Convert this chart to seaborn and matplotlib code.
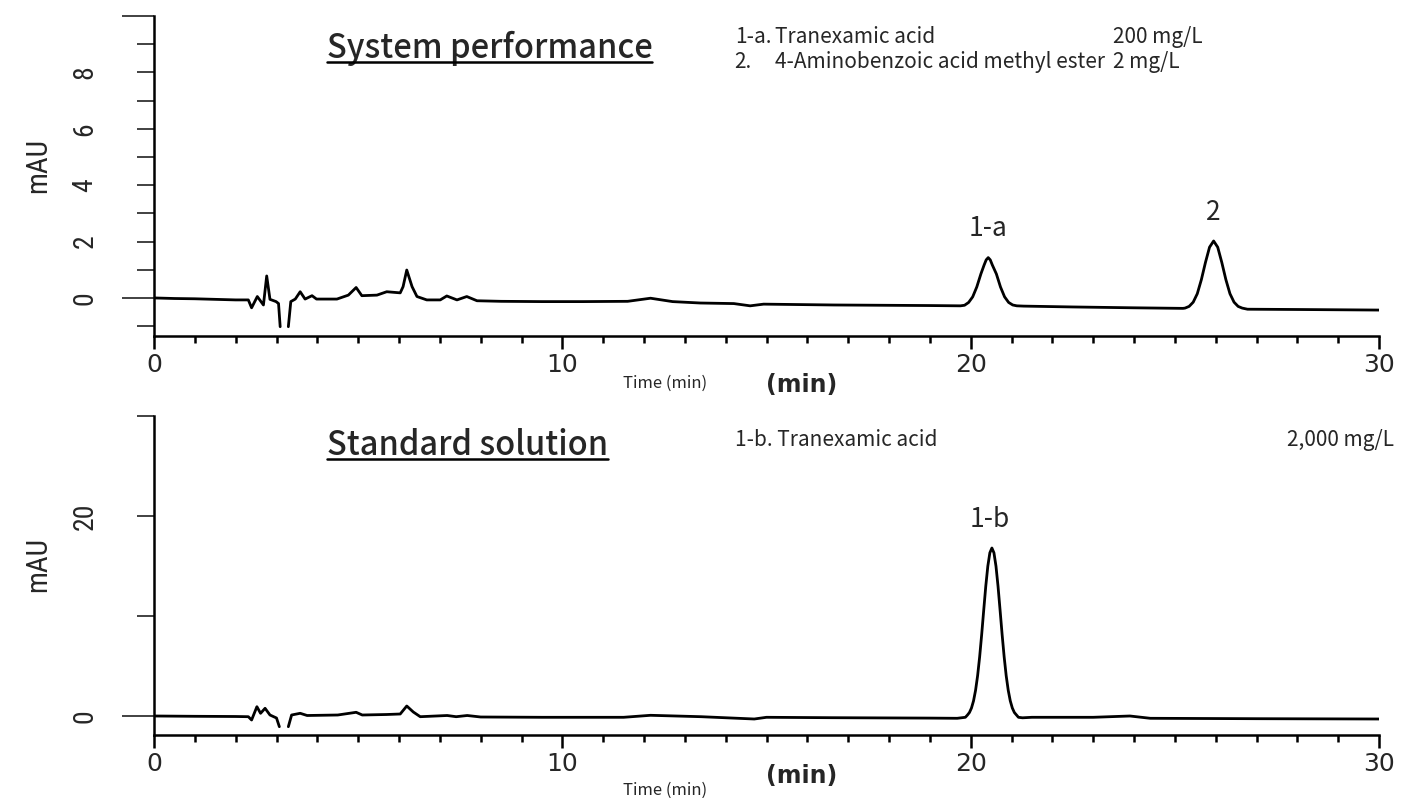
import matplotlib
matplotlib.use("Agg")
import matplotlib.pyplot as plt
import seaborn as sns
from matplotlib import font_manager as fm
from matplotlib.lines import Line2D

# ---------------- data ----------------
# System performance chromatogram, before and after the off-scale gap near 3.1-3.3 min
sys_t_a = [0.0, 0.5, 1.0, 1.5, 2.0, 2.31, 2.39, 2.53, 2.68, 2.76, 2.84, 2.99, 3.05, 3.09]
sys_v_a = [0.0, -0.02, -0.03, -0.05, -0.07, -0.07, -0.35, 0.05, -0.25, 0.78, -0.05, -0.13, -0.2, -1.02]
sys_t_b = [3.29, 3.35, 3.46, 3.58, 3.70, 3.87, 3.98, 4.48, 4.76, 4.95, 5.09, 5.46, 5.70, 6.03,
           6.10, 6.19, 6.32, 6.44, 6.68, 7.01, 7.17, 7.42, 7.66, 7.91, 8.5, 9.5, 10.5, 11.6,
           12.16, 12.7, 13.38, 14.2, 14.6, 14.93, 16.65, 19.0, 19.75,
           19.85, 19.95, 20.05, 20.15, 20.25, 20.33, 20.38, 20.43, 20.48, 20.53, 20.63,
           20.73, 20.83, 20.93, 21.03, 21.13, 21.3, 22.5, 24.0, 25.2,
           25.25, 25.35, 25.45, 25.55, 25.65, 25.75, 25.85, 25.95, 26.05, 26.15, 26.25,
           26.35, 26.45, 26.55, 26.65, 26.78, 28.0, 30.0]
sys_v_b = [-1.02, -0.13, -0.04, 0.22, -0.04, 0.08, -0.04, -0.04, 0.10, 0.37, 0.08, 0.10, 0.22, 0.18,
           0.40, 0.99, 0.40, 0.05, -0.07, -0.07, 0.07, -0.07, 0.05, -0.10, -0.12, -0.13, -0.13, -0.12,
           -0.01, -0.13, -0.18, -0.20, -0.28, -0.22, -0.25, -0.27, -0.28,
           -0.26, -0.16, 0.04, 0.39, 0.85, 1.17, 1.35, 1.43, 1.35, 1.17, 0.85,
           0.39, 0.04, -0.16, -0.25, -0.28, -0.29, -0.32, -0.35, -0.37,
           -0.36, -0.30, -0.15, 0.15, 0.65, 1.26, 1.80, 2.02, 1.80, 1.26, 0.65,
           0.15, -0.15, -0.30, -0.36, -0.40, -0.41, -0.43]

# Standard solution chromatogram
std_t_a = [0.0, 1.0, 2.0, 2.31, 2.39, 2.52, 2.61, 2.72, 2.84, 3.0, 3.07]
std_v_a = [0.0, -0.03, -0.05, -0.07, -0.40, 0.93, 0.27, 0.77, 0.10, -0.20, -1.07]
std_t_b = [3.29, 3.37, 3.58, 3.75, 4.5, 4.95, 5.1, 5.7, 6.03, 6.19, 6.35, 6.52, 7.18, 7.4, 7.67,
           8.0, 9.5, 11.5, 12.16, 13.4, 14.7, 15.0, 16.6, 19.0, 19.67,
           19.77, 19.87, 19.92, 19.97, 20.02, 20.07, 20.12, 20.17, 20.22, 20.27, 20.32, 20.37, 20.42,
           20.47, 20.52, 20.57, 20.62, 20.67, 20.72, 20.77, 20.82, 20.87, 20.92, 20.97, 21.02,
           21.07, 21.17, 21.27, 21.5, 23.0, 23.9, 24.4, 27.0, 30.0]
std_v_b = [-1.07, 0.10, 0.27, 0.05, 0.10, 0.37, 0.10, 0.15, 0.20, 1.00, 0.40, -0.07, 0.05, -0.07, 0.05,
           -0.10, -0.13, -0.13, 0.07, -0.07, -0.30, -0.13, -0.17, -0.21, -0.23,
           -0.18, -0.13, 0.09, 0.35, 0.80, 1.51, 2.57, 4.03, 5.92, 8.16, 10.6, 12.98, 14.98,
           16.32, 16.80, 16.32, 14.98, 12.98, 10.6, 8.16, 5.92, 4.03, 2.57, 1.51, 0.80,
           0.35, -0.13, -0.18, -0.13, -0.13, 0.0, -0.23, -0.27, -0.30]

x_major = [0, 10, 20, 30]
x_major_labels = ["0", "10", "20", "30"]
x_minor = [m for m in range(0, 31) if m not in x_major]

sys_y_major = [0, 10]
sys_y_major_labels = ["0", ""]
sys_y_minor = [-1, 1, 2, 3, 4, 5, 6, 7, 8, 9]
sys_y_minor_labels = ["", "", "2", "", "4", "", "6", "", "8", ""]

std_y_major = [0]
std_y_major_labels = ["0"]
std_y_minor = [10, 20, 30]
std_y_minor_labels = ["", "20", ""]

sys_title = "System performance"
std_title = "Standard solution"
sys_legend = [("1-a.", "Tranexamic acid", "200 mg/L"),
              ("2.", "4-Aminobenzoic acid methyl ester", "2 mg/L")]
std_legend = [("1-b. Tranexamic acid", "2,000 mg/L")]
sys_peaks = [("1-a", 20.43, 1.43), ("2", 25.95, 2.02)]
std_peaks = [("1-b", 20.47, 16.80)]


def pick(cands):
    for c in cands:
        try:
            fm.findfont(fm.FontProperties(family=c), fallback_to_default=False)
            return c
        except Exception:
            pass
    return "DejaVu Sans"


sns.set_style("ticks")
JP = pick(["Noto Sans CJK JP", "Noto Sans"])
NARROW = pick(["Liberation Sans Narrow", "DejaVu Sans Condensed", "Roboto Condensed", "Liberation Sans"])
plt.rcParams["font.family"] = [JP, "DejaVu Sans"]

fig = plt.figure(figsize=(14.03, 7.98), dpi=100)
ax1 = fig.add_axes([154 / 1403, 1 - 336 / 798, 1225 / 1403, 320 / 798])
ax2 = fig.add_axes([154 / 1403, 1 - 735 / 798, 1225 / 1403, 319 / 798])

LW = 2.0
for t, v in [(sys_t_a, sys_v_a), (sys_t_b, sys_v_b)]:
    sns.lineplot(x=t, y=v, ax=ax1, color="black", lw=LW, estimator=None, sort=False)
for t, v in [(std_t_a, std_v_a), (std_t_b, std_v_b)]:
    sns.lineplot(x=t, y=v, ax=ax2, color="black", lw=LW, estimator=None, sort=False)

ax1.set_ylim(-1.35, 10)
ax2.set_ylim(-1.9, 30)

for ax, ymaj, ymajl, ymin, yminl in [
        (ax1, sys_y_major, sys_y_major_labels, sys_y_minor, sys_y_minor_labels),
        (ax2, std_y_major, std_y_major_labels, std_y_minor, std_y_minor_labels)]:
    ax.set_xlim(0, 30)
    ax.set_xticks(x_major, labels=x_major_labels)
    ax.set_xticks(x_minor, minor=True)
    ax.set_yticks(ymaj, labels=ymajl)
    ax.set_yticks(ymin, labels=yminl, minor=True)
    for s in ["top", "right"]:
        ax.spines[s].set_visible(False)
    for s in ["left", "bottom"]:
        ax.spines[s].set_linewidth(1.8)
        ax.spines[s].set_color("black")
    ax.tick_params(axis="x", which="major", length=9, width=1.8, color="black",
                   direction="out", pad=3, labelsize=18)
    ax.tick_params(axis="x", which="minor", length=5, width=1.8, color="black", direction="out")
    ax.tick_params(axis="y", which="major", length=23, width=1.3, color="#333333",
                   direction="out", pad=17, labelsize=20, labelrotation=90)
    ax.tick_params(axis="y", which="minor", length=12, width=1.3, color="#333333",
                   direction="out", pad=28, labelsize=20, labelrotation=90)
    for lab in ax.get_xticklabels():
        lab.set_fontfamily("DejaVu Sans")
    for lab in ax.get_yticklabels(which="both"):
        lab.set_fontfamily(NARROW)
        lab.set_va("center")
    ax.set_xlabel("")
    ax.set_ylabel("")
    ax.text(-0.0947, 0.533, "mAU", transform=ax.transAxes, rotation=90, ha="center", va="center",
            fontsize=21, family=NARROW)

# x-axis captions
ax1.text(0.417, -0.147, "Time (min)", transform=ax1.transAxes, ha="center", va="center", fontsize=12)
ax1.text(0.529, -0.153, "(min)", transform=ax1.transAxes, ha="center", va="center",
         fontsize=17, family="DejaVu Sans", weight="bold")
ax2.text(0.417, -0.172, "Time (min)", transform=ax2.transAxes, ha="center", va="center", fontsize=12)
ax2.text(0.529, -0.129, "(min)", transform=ax2.transAxes, ha="center", va="center",
         fontsize=17, family="DejaVu Sans", weight="bold")

# titles
t1 = ax1.text(0.141, 0.90, sys_title, transform=ax1.transAxes, ha="left", va="center",
              fontsize=23.5, weight="medium")
t2 = ax2.text(0.141, 0.909, std_title, transform=ax2.transAxes, ha="left", va="center",
              fontsize=23.5, weight="medium")

# compound legends
ys = [0.934, 0.856]
for (num, name, conc), yy in zip(sys_legend, ys):
    ax1.text(0.474, yy, num, transform=ax1.transAxes, ha="left", va="center", fontsize=15)
    ax1.text(0.507, yy, name, transform=ax1.transAxes, ha="left", va="center", fontsize=15)
    ax1.text(0.783, yy, conc, transform=ax1.transAxes, ha="left", va="center", fontsize=15)
for name, conc in std_legend:
    ax2.text(0.474, 0.925, name, transform=ax2.transAxes, ha="left", va="center", fontsize=15)
    ax2.text(0.925, 0.925, conc, transform=ax2.transAxes, ha="left", va="center", fontsize=15)

# peak labels
for ax, peaks in [(ax1, sys_peaks), (ax2, std_peaks)]:
    for lab, t, v in peaks:
        ax.annotate(lab, xy=(t, v), xytext=(0, 11), textcoords="offset points",
                    ha="center", va="bottom", fontsize=19)

# underline titles
fig.canvas.draw()
r = fig.canvas.get_renderer()
for t in [t1, t2]:
    bb = t.get_window_extent(r).transformed(fig.transFigure.inverted())
    yline = bb.y0 + 0.004
    fig.add_artist(Line2D([bb.x0, bb.x1], [yline, yline], transform=fig.transFigure,
                          color="black", lw=1.8))

fig.savefig("out.png", dpi=100)
